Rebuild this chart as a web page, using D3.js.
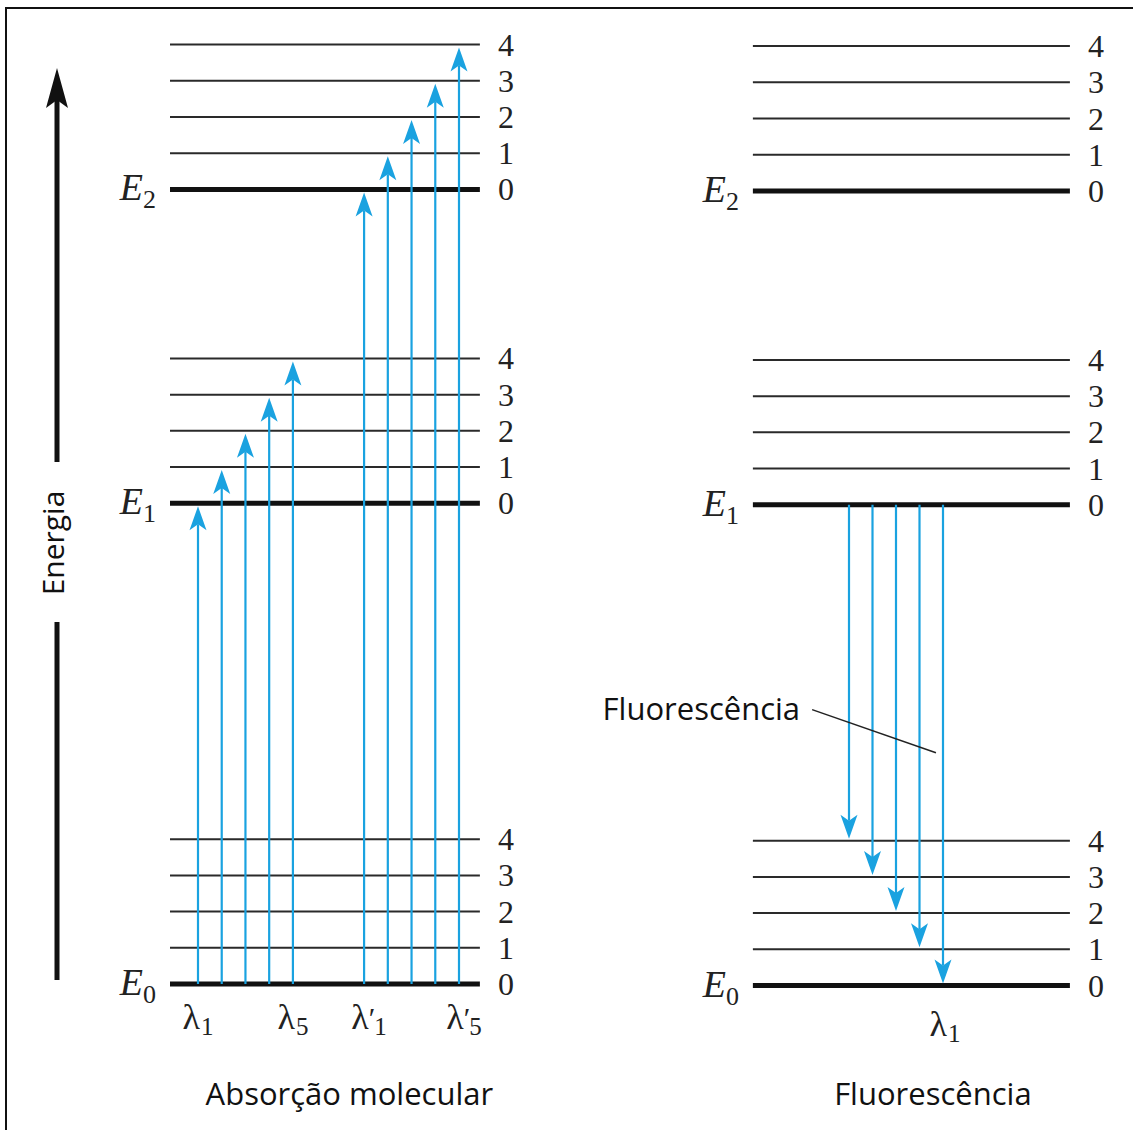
<!DOCTYPE html>
<html>
<head>
<meta charset="utf-8">
<script src="https://cdn.jsdelivr.net/npm/d3@7"></script>
<style>
  body { margin: 0; background: #fff; }
</style>
</head>
<body>
<div id="chart"></div>
<script>
// vibrational sublevels drawn for each electronic state
const vibLevels = [0, 1, 2, 3, 4];
// electronic states E0, E1, E2 (energy in units of one vibrational spacing)
const stateSubs = ["0", "1", "2"];
const stateEnergy = [0, 13.28, 21.95];

// absorption: E0(v=0) -> E1(v) in slots 0..4, -> E2(v) in slots 7..11
const absE1Slots = [0, 1, 2, 3, 4];
const absE1Targets = [0, 1, 2, 3, 4];
const absE2Slots = [7, 8, 9, 10, 11];
const absE2Targets = [0, 1, 2, 3, 4];
// fluorescence: E1(v=0) -> E0(v)
const fluorSlots = [0, 1, 2, 3, 4];
const fluorTargets = [4, 3, 2, 1, 0];

// wavelength labels under the arrows
const absLabelSlots = [0, 4, 7, 11];
const absLabelSubs = ["1", "5", "1", "5"];
const absLabelPrime = [false, false, true, true];
const fluorLabelSlots = [4];
const fluorLabelSubs = ["1"];

const W = 1133, H = 1130;
const BLUE = "#1aa2e0";
const SERIF = "'Liberation Serif', 'Times New Roman', serif";
const SANS = "'Open Sans', 'Noto Sans', sans-serif";

const svg = d3.select("#chart").append("svg")
  .attr("width", W)
  .attr("height", H);

// frame (only left/top edges are visible in the crop)
svg.append("path")
  .attr("d", `M6,${H + 5} V8 H${W + 5}`)
  .attr("fill", "none")
  .attr("stroke", "#111")
  .attr("stroke-width", 2);

const y = d3.scaleLinear()
  .domain([0, 4])
  .range([984, 984 - 4 * 36.2]);

const xL = d3.scaleLinear().domain([0, 11]).range([198, 459]);
const xR = d3.scaleLinear().domain([0, 4]).range([849, 943]);

// energy axis arrow
const energy = svg.append("g");
energy.append("line")
  .attr("x1", 57).attr("x2", 57)
  .attr("y1", 980).attr("y2", 622)
  .attr("stroke", "#111").attr("stroke-width", 5);
energy.append("line")
  .attr("x1", 57).attr("x2", 57)
  .attr("y1", 462).attr("y2", 100)
  .attr("stroke", "#111").attr("stroke-width", 5);
energy.append("path")
  .attr("d", "M57,68 L46,108 L57,100 L68,108 Z")
  .attr("fill", "#111");
energy.append("text")
  .attr("transform", "translate(64,543) rotate(-90)")
  .attr("text-anchor", "middle")
  .attr("font-family", SANS)
  .attr("font-size", 30)
  .attr("fill", "#111")
  .text("Energia");

function levelRows() {
  const rows = [];
  stateEnergy.forEach((e, s) => {
    vibLevels.forEach(v => rows.push({ s, v, e: e + v }));
  });
  return rows;
}

function drawPanel(g, x, xMin, xMax) {
  const rows = levelRows();
  g.selectAll("line.level")
    .data(rows)
    .enter().append("line")
    .attr("class", "level")
    .attr("x1", x(xMin)).attr("x2", x(xMax))
    .attr("y1", d => y(d.e)).attr("y2", d => y(d.e))
    .attr("stroke", d => d.v === 0 ? "#111" : "#2a2a2a")
    .attr("stroke-width", d => d.v === 0 ? 5 : 2);

  g.selectAll("text.vib")
    .data(rows)
    .enter().append("text")
    .attr("class", "vib")
    .attr("x", x(xMax) + 18)
    .attr("y", d => y(d.e) + 11)
    .attr("font-family", SERIF)
    .attr("font-size", 32)
    .attr("fill", "#222")
    .text(d => d.v);

  const el = g.selectAll("text.state")
    .data(stateSubs)
    .enter().append("text")
    .attr("class", "state")
    .attr("x", x(xMin) - 14)
    .attr("y", (d, i) => y(stateEnergy[i]) + 11)
    .attr("text-anchor", "end")
    .attr("font-family", SERIF)
    .attr("fill", "#222");
  el.append("tspan")
    .attr("font-style", "italic")
    .attr("font-size", 38)
    .text("E");
  el.append("tspan")
    .attr("dy", 8)
    .attr("font-size", 26)
    .text(d => d);
}

function arrowHead(g, x, tip, dir) {
  // dir = -1 points up, +1 points down
  const L = 24, hw = 8.5, n = 18;
  g.append("path")
    .attr("d", `M${x},${tip} L${x - hw},${tip - dir * L} L${x},${tip - dir * n} L${x + hw},${tip - dir * L} Z`)
    .attr("fill", BLUE);
}

function drawArrow(g, x, yFrom, yTip) {
  const dir = yTip < yFrom ? -1 : 1;
  g.append("line")
    .attr("x1", x).attr("x2", x)
    .attr("y1", yFrom).attr("y2", yTip - dir * 18)
    .attr("stroke", BLUE).attr("stroke-width", 2.2);
  arrowHead(g, x, yTip, dir);
}

function lambdaLabel(g, x, yBase, sub, prime) {
  const t = g.append("text")
    .attr("x", x)
    .attr("y", yBase)
    .attr("text-anchor", "middle")
    .attr("font-family", SERIF)
    .attr("fill", "#222");
  t.append("tspan").attr("font-size", 36).text("λ");
  if (prime) {
    t.append("tspan").attr("font-size", 30).attr("dy", -1).text("′");
    t.append("tspan").attr("font-size", 25).attr("dx", -1).attr("dy", 7).text(sub);
  } else {
    t.append("tspan").attr("font-size", 25).attr("dx", 1).attr("dy", 6).text(sub);
  }
}

// ---- left panel: absorption
const left = svg.append("g");
drawPanel(left, xL, -1.18, 11.88);

absE1Slots.forEach((slot, i) => {
  drawArrow(left, xL(slot), y(0), y(stateEnergy[1] + absE1Targets[i]) + 3);
});
absE2Slots.forEach((slot, i) => {
  drawArrow(left, xL(slot), y(0), y(stateEnergy[2] + absE2Targets[i]) + 3);
});
absLabelSlots.forEach((slot, i) => {
  lambdaLabel(left, xL(slot) + (absLabelPrime[i] ? 5 : 0), 1029, absLabelSubs[i], absLabelPrime[i]);
});
left.append("text")
  .attr("x", xL(6.38))
  .attr("y", 1105)
  .attr("text-anchor", "middle")
  .attr("font-family", SANS)
  .attr("font-size", 31)
  .attr("fill", "#111")
  .text("Absorção molecular");

// ---- right panel: fluorescence
const right = svg.append("g").attr("transform", "translate(0,1.5)");
drawPanel(right, xR, -4.09, 9.4);

fluorSlots.forEach((slot, i) => {
  drawArrow(right, xR(slot), y(stateEnergy[1]), y(fluorTargets[i]) - 2);
});
fluorLabelSlots.forEach((slot, i) => {
  lambdaLabel(right, xR(slot) + 2, 1034, fluorLabelSubs[i], false);
});

// callout for the emission arrows
right.append("line")
  .attr("x1", xR(-1.57)).attr("y1", y(7.62))
  .attr("x2", xR(3.7)).attr("y2", y(6.43))
  .attr("stroke", "#222").attr("stroke-width", 1.5);
right.append("text")
  .attr("x", xR(-2.08))
  .attr("y", y(7.34))
  .attr("text-anchor", "end")
  .attr("font-family", SANS)
  .attr("font-size", 31)
  .attr("fill", "#111")
  .text("Fluorescência");

right.append("text")
  .attr("x", xR(3.57))
  .attr("y", 1103)
  .attr("text-anchor", "middle")
  .attr("font-family", SANS)
  .attr("font-size", 31)
  .attr("fill", "#111")
  .text("Fluorescência");
</script>
</body>
</html>
